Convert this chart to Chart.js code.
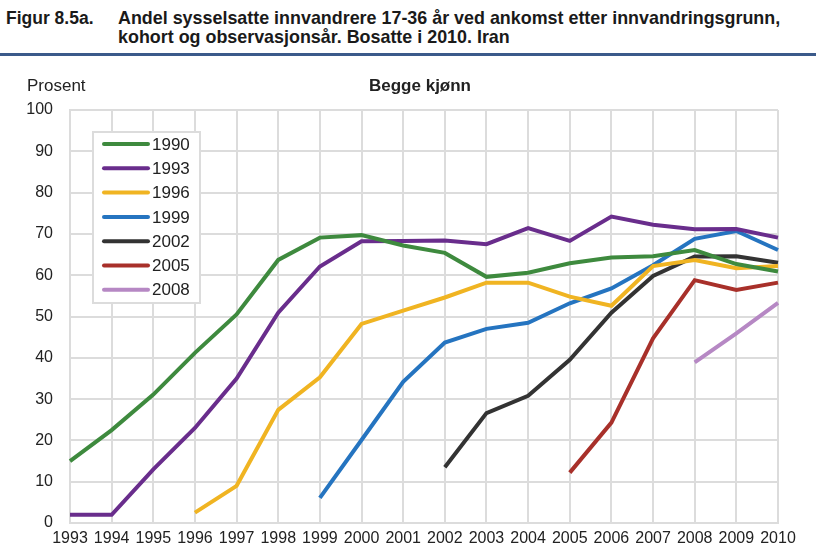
<!DOCTYPE html>
<html lang="no">
<head>
<meta charset="utf-8">
<title>Figur 8.5a</title>
<script src="https://cdn.jsdelivr.net/npm/chart.js@4.4.1/dist/chart.umd.min.js"></script>
<style>
    html, body { margin: 0; padding: 0; background: #fff; }
    body { width: 816px; height: 555px; position: relative; overflow: hidden; font-family: "Liberation Sans", Arial, sans-serif; }
    .hode { position: absolute; top: 9px; left: 6px; font-weight: bold; font-size: 17.9px; line-height: 19px; color: #1a1a1a; }
    .hode .nr { position: absolute; left: 0; top: 0; white-space: nowrap; font-size: 17.5px; }
    .hode .tekst { position: absolute; left: 112px; top: 0; white-space: nowrap; }
    .strek { position: absolute; left: 0; top: 53px; width: 816px; height: 3px; background: #3b5a8a; }
    .boks { position: absolute; left: 0; top: 62px; width: 816px; height: 493px; }
</style>
</head>
<body>
<div class="hode">
    <div class="nr">Figur 8.5a.</div>
    <div class="tekst">Andel sysselsatte innvandrere 17-36 år ved ankomst etter innvandringsgrunn,<br>kohort og observasjonsår. Bosatte i 2010. Iran</div>
</div>
<div class="strek"></div>
<div class="boks"><canvas id="figur"></canvas></div>

<script>
const aar = ["1993", "1994", "1995", "1996", "1997", "1998", "1999", "2000", "2001",
    "2002", "2003", "2004", "2005", "2006", "2007", "2008", "2009", "2010"];

const kohorter = ["1990", "1993", "1996", "1999", "2002", "2005", "2008"];
const farger = ["#3e8a3e", "#692d8c", "#f0b422", "#2574c0", "#333333", "#a8302a", "#b688c4"];

const k1990 = [15.0, 22.5, 31.1, 41.2, 50.5, 63.7, 69.1, 69.7, 67.2, 65.4, 59.6, 60.6, 62.9, 64.3, 64.6, 66.1, 62.7, 60.9];
const k1993 = [2.0, 2.0, 13.0, 23.0, 35.0, 50.9, 62.1, 68.2, 68.3, 68.4, 67.5, 71.4, 68.3, 74.2, 72.2, 71.1, 71.2, 69.1];
const k1996 = [null, null, null, 2.5, 9.0, 27.4, 35.3, 48.2, 51.4, 54.6, 58.2, 58.2, 54.8, 52.6, 62.2, 63.7, 61.7, 62.2];
const k1999 = [null, null, null, null, null, null, 6.1, 20.1, 34.2, 43.7, 47.0, 48.5, 53.2, 56.8, 62.4, 68.8, 70.7, 66.1];
const k2002 = [null, null, null, null, null, null, null, null, null, 13.5, 26.6, 30.8, 39.5, 50.9, 59.8, 64.5, 64.6, 63.0];
const k2005 = [null, null, null, null, null, null, null, null, null, null, null, null, 12.2, 24.3, 44.7, 58.8, 56.4, 58.2];
const k2008 = [null, null, null, null, null, null, null, null, null, null, null, null, null, null, null, 38.9, 45.9, 53.3];

const serier = [k1990, k1993, k1996, k1999, k2002, k2005, k2008];

const gridFarge = "#dcdcdc";
const tekstFarge = "#222222";

// tekst over plottet og forklaringsboksen inne i plottet
const ekstraTegning = {
    id: "ekstraTegning",
    afterDraw(chart) {
        const ctx = chart.ctx;
        const area = chart.chartArea;
        ctx.save();
        ctx.fillStyle = tekstFarge;
        ctx.textBaseline = "middle";
        ctx.font = "17px 'Liberation Sans', Arial, sans-serif";
        ctx.textAlign = "left";
        ctx.fillText("Prosent", 27, area.top - 24);
        ctx.font = "bold 17px 'Liberation Sans', Arial, sans-serif";
        ctx.textAlign = "center";
        ctx.fillText("Begge kjønn", (area.left + area.right) / 2 - 4, area.top - 24);

        const bx = area.left + 23;
        const by = area.top + 22;
        const bw = 107;
        const bh = 171;
        ctx.fillStyle = "#fff";
        ctx.fillRect(bx, by, bw, bh);
        ctx.strokeStyle = gridFarge;
        ctx.lineWidth = 2;
        ctx.strokeRect(bx, by, bw, bh);

        ctx.font = "17px 'Liberation Sans', Arial, sans-serif";
        ctx.textAlign = "left";
        chart.data.datasets.forEach((ds, i) => {
            const y = by + 12 + i * 24.3;
            ctx.strokeStyle = ds.borderColor;
            ctx.lineWidth = 4;
            ctx.lineCap = "round";
            ctx.beginPath();
            ctx.moveTo(bx + 11, y);
            ctx.lineTo(bx + 55, y);
            ctx.stroke();
            ctx.fillStyle = tekstFarge;
            ctx.fillText(ds.label, bx + 59, y + 1);
        });
        ctx.restore();
    }
};

const ctx = document.getElementById("figur").getContext("2d");

new Chart(ctx, {
    type: "line",
    data: {
        labels: aar,
        datasets: kohorter.map((k, i) => ({
            label: k,
            data: serier[i],
            borderColor: farger[i],
            backgroundColor: farger[i],
            borderWidth: 4,
            pointRadius: 0,
            tension: 0,
            spanGaps: false
        }))
    },
    options: {
        responsive: true,
        maintainAspectRatio: false,
        animation: false,
        layout: { padding: { top: 48, right: 38, left: 0, bottom: 0 } },
        plugins: {
            legend: { display: false },
            title: { display: false },
            tooltip: { enabled: false }
        },
        scales: {
            x: {
                offset: false,
                afterFit(scale) { scale.height = 32; },
                grid: { color: gridFarge, lineWidth: 2, drawTicks: false },
                border: { color: gridFarge, width: 2 },
                ticks: {
                    color: tekstFarge,
                    padding: 6,
                    maxRotation: 0,
                    autoSkip: false,
                    font: { family: "'Liberation Sans', Arial, sans-serif", size: 16 }
                }
            },
            y: {
                min: 0,
                max: 100,
                afterFit(scale) { scale.width = 70; },
                grid: { color: gridFarge, lineWidth: 2, drawTicks: false },
                border: { color: gridFarge, width: 2 },
                ticks: {
                    stepSize: 10,
                    color: tekstFarge,
                    padding: 17,
                    font: { family: "'Liberation Sans', Arial, sans-serif", size: 16 }
                }
            }
        }
    },
    plugins: [ekstraTegning]
});
</script>
</body>
</html>
